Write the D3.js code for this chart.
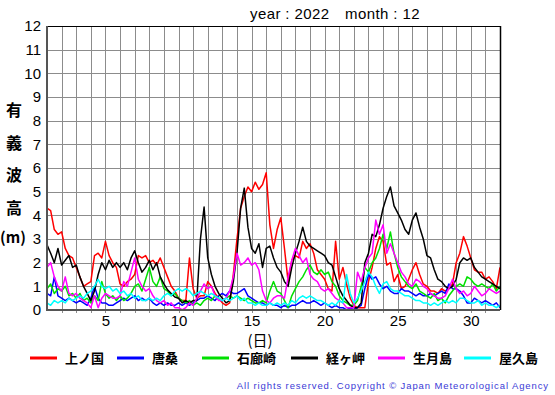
<!DOCTYPE html>
<html>
<head>
<meta charset="utf-8">
<script src="https://cdn.jsdelivr.net/npm/d3@7"></script>
<style>
  body { margin: 0; background: #fff; }
  svg text { font-family: "Liberation Sans", Arial, Helvetica, sans-serif; }
  .jp { font-family: "Noto Sans CJK JP", sans-serif !important; }
</style>
</head>
<body>
<svg id="chart" width="555" height="395"></svg>
<script>
// significant wave height, 6-hourly samples from day 1 00h to day 32 00h
var stations = ["上ノ国", "唐桑", "石廊崎", "経ヶ岬", "生月島", "屋久島"];
var colors = ["#ff0000", "#0000ff", "#00e000", "#000000", "#ff00ff", "#00ffff"];

var kaminokuni = [
  4.3, 4.2, 3.4, 3.2,  3.3, 2.6, 2.3, 2.2,  1.8, 1.4, 1.0, 1.1,  1.2, 2.3, 2.4, 2.2,
  2.9, 2.3, 2.0, 1.8,  1.1, 1.0, 1.2, 1.3,  1.5, 2.3, 2.2, 2.3,  2.0, 2.1, 1.9, 2.2,
  1.8, 1.4, 1.0, 0.8,  0.5, 0.4, 0.4, 2.2,  0.9, 0.5, 0.6, 0.6,  1.2, 1.0, 0.7, 0.5,
  0.3, 0.2, 0.3, 1.5,  3.0, 4.3, 4.8, 5.2,  5.0, 5.4, 5.1, 5.3,  5.8, 3.6, 2.6, 3.4,
  3.9, 2.6, 1.2, 2.1,  2.3, 2.2, 2.9, 2.6,  2.8, 2.4, 1.7, 1.5,  1.3, 0.9, 0.8, 2.9,
  1.3, 1.8, 1.1, 0.5,  0.2, 0.1, 0.1, 0.1,  1.2, 1.8, 2.6, 3.1,  2.9, 1.9, 2.0, 1.2,
  1.5, 0.9, 1.0, 1.3,  1.7, 2.0, 1.5, 1.1,  1.0, 0.8, 0.8, 0.7,  0.9, 0.8, 0.9, 1.1,
  2.0, 2.4, 3.1, 2.7,  2.2, 1.7, 1.6, 1.6,  1.3, 1.4, 1.2, 0.9,  1.8
];
var karakuwa = [
  0.7, 0.6, 1.4, 0.6,  0.5, 0.4, 0.5, 0.4,  0.3, 0.4, 0.3, 0.2,  0.5, 1.0, 0.5, 0.3,
  0.3, 0.2, 0.2, 0.3,  0.4, 0.5, 0.4, 0.5,  0.6, 0.4, 0.5, 0.4,  0.5, 0.3, 0.2, 0.3,
  0.2, 0.3, 0.2, 0.2,  0.3, 0.2, 0.3, 0.2,  0.3, 0.4, 0.5, 0.5,  0.6, 0.5, 0.4, 0.6,
  0.7, 0.6, 0.8, 0.7,  0.7, 0.8, 0.9, 0.6,  0.5, 0.4, 0.3, 0.3,  0.2, 0.3, 0.2, 0.2,
  0.1, 0.2, 0.1, 0.2,  0.2, 0.3, 0.4, 0.3,  0.3, 0.4, 0.3, 0.2,  0.3, 0.2, 0.1, 0.2,
  0.1, 0.1, 0.0, 0.1,  0.0, 0.1, 0.2, 0.9,  1.5, 1.3, 1.4, 1.1,  0.9, 1.0, 0.8, 0.7,
  0.7, 0.9, 0.8, 0.8,  0.7, 0.6, 0.7, 0.6,  0.6, 0.7, 0.6, 0.7,  0.8, 0.7, 1.1, 0.9,
  0.9, 0.8, 0.6, 0.3,  0.3, 0.5, 0.4, 0.3,  0.4, 0.3, 0.2, 0.3,  0.1
];
var irozaki = [
  0.9, 1.1, 0.7, 0.9,  0.8, 1.0, 0.6, 0.7,  0.5, 0.7, 0.4, 0.5,  0.3, 0.6, 0.4, 1.2,
  0.7, 0.5, 0.6, 0.4,  0.6, 0.4, 0.5, 0.7,  1.0, 1.1, 0.8, 1.3,  1.8, 1.2, 1.0, 1.4,
  0.9, 0.8, 0.6, 0.7,  0.5, 0.4, 0.3, 0.4,  0.2, 0.3, 0.2, 0.4,  0.5, 0.4, 0.6, 0.5,
  0.4, 0.5, 0.6, 0.5,  0.6, 0.5, 0.4, 0.5,  0.4, 0.3, 0.3, 0.4,  0.3, 0.8, 1.2, 0.8,
  0.7, 0.4, 0.1, 0.6,  0.9, 1.2, 1.4, 1.7,  1.9, 1.6, 1.5, 1.7,  1.5, 1.6, 1.2, 1.0,
  0.6, 0.4, 0.3, 0.2,  0.2, 0.4, 1.0, 1.8,  1.6, 2.0, 2.2, 2.6,  3.2, 2.6, 3.3, 2.4,
  1.8, 1.4, 1.2, 1.0,  0.9, 1.1, 0.8, 0.7,  0.6, 0.5, 0.7, 0.4,  0.5, 0.3, 0.6, 0.8,
  1.0, 1.1, 1.0, 1.4,  1.3, 1.1, 1.0, 1.1,  1.0, 0.9, 1.1, 0.8,  1.0
];
var kyogamisaki = [
  2.75, 2.4, 2.0, 2.6,  1.9, 2.1, 2.3, 1.8,  1.9, 1.4, 1.0, 0.7,  0.4, 0.8, 1.5, 2.0,
  1.7, 2.1, 1.8, 2.0,  1.8, 2.0, 1.7, 2.2,  2.5, 2.0, 1.6, 1.8,  2.1, 1.7, 2.0, 1.4,
  1.1, 0.85, 0.7, 0.55, 0.5, 0.3, 0.4, 0.3,  0.4, 0.4, 3.0, 4.35,  2.2, 1.5, 1.0, 0.7,
  0.5, 0.3, 0.4, 1.2,  2.4, 4.3, 5.15, 3.5,  2.6, 2.4, 2.8, 1.8,  2.6, 2.7, 2.2, 1.8,
  1.6, 1.2, 1.0, 1.8,  2.4, 2.9, 3.5, 2.9,  2.7, 2.6, 2.5, 2.4,  2.3, 2.0, 1.9, 1.4,
  0.9, 0.6, 0.4, 0.2,  0.1, 0.1, 0.3, 2.0,  2.4, 3.2, 3.1, 3.6,  4.3, 4.8, 5.2, 4.4,
  4.1, 3.8, 3.4, 3.2,  3.8, 4.1, 3.5, 3.0,  2.3, 2.2, 1.7, 1.3,  1.2, 1.0, 0.9, 1.0,
  1.3, 2.0, 2.2, 2.1,  2.2, 1.8, 1.6, 1.4,  1.3, 1.2, 1.1, 1.0,  0.9
];
var ikitsukishima = [
  1.8, 2.0, 1.4, 1.0,  0.8, 1.4, 0.7, 0.6,  0.7, 0.5, 0.4, 0.3,  0.1, 0.6, 0.1, 0.5,
  0.7, 0.6, 0.5, 0.5,  0.6, 1.2, 1.0, 1.6,  2.2, 1.3, 1.0, 0.8,  0.9, 0.6, 0.4, 0.3,
  0.4, 0.2, 0.3, 0.1,  0.1, 0.0, 0.1, 0.3,  0.2, 0.5, 0.8, 1.1,  0.9, 1.0, 0.6, 0.4,
  0.4, 0.5, 0.8, 1.4,  2.4, 1.9, 2.0, 2.2,  1.9, 2.0, 1.7, 0.8,  0.4, 0.3, 0.5, 0.6,
  0.6, 0.5, 1.4, 2.1,  2.6, 2.3, 2.0, 2.2,  1.5, 1.3, 1.2, 0.9,  0.8, 0.9, 0.7, 0.5,
  0.4, 0.3, 0.1, 0.1,  0.1, 1.6, 1.2, 1.8,  2.2, 2.4, 3.8, 3.2,  3.6, 2.4, 2.8, 2.4,
  2.0, 1.6, 1.4, 1.1,  1.0, 1.3, 1.2, 1.0,  0.9, 0.7, 0.6, 0.5,  0.5, 0.6, 0.9, 1.3,
  0.9, 0.7, 0.8, 0.6,  0.7, 1.0, 0.8, 0.6,  0.7, 0.9, 0.8, 0.7,  0.8
];
var yakushima = [
  0.3, 0.2, 0.4, 0.3,  0.4, 0.3, 0.5, 0.4,  0.5, 0.6, 0.5, 0.7,  0.8, 1.0, 1.3, 1.0,
  0.9, 1.0, 0.8, 0.9,  0.7, 0.8, 0.6, 0.7,  0.5, 0.6, 0.4, 0.4,  0.5, 0.4, 0.5, 0.4,
  0.6, 0.7, 0.6, 0.8,  0.9, 0.8, 0.9, 0.8,  0.6, 0.7, 0.8, 0.7,  0.6, 0.7, 0.6, 0.5,
  0.4, 0.5, 0.4, 0.5,  0.6, 0.4, 0.5, 0.3,  0.3, 0.2, 0.3, 0.2,  0.2, 0.3, 0.2, 0.3,
  0.2, 0.3, 0.2, 0.4,  0.3, 0.5, 0.6, 0.5,  0.6, 0.5, 0.4, 0.4,  0.3, 0.2, 0.3, 0.2,
  0.4, 0.3, 1.5, 0.7,  0.3, 0.5, 0.8, 1.2,  1.6, 1.4, 1.0, 0.7,  1.1, 1.2, 0.9, 0.8,
  0.8, 0.7, 0.6, 0.6,  0.5, 0.4, 0.4, 0.3,  0.3, 0.2, 0.3, 0.2,  0.3, 0.4, 0.3, 0.4,
  0.3, 0.5, 0.5, 0.4,  0.3, 0.3, 0.4, 0.2,  0.3, 0.2, 0.2, 0.1,  0.2
];

var yTicks = d3.range(0, 13);
var xTicks = [5, 10, 15, 20, 25, 30];

(function() {

  var series = [kaminokuni, karakuwa, irozaki, kyogamisaki, ikitsukishima, yakushima];
  var samplesPerDay = 4;

  var plotLeft = 47, plotRight = 500, plotTop = 26, plotBottom = 310;

  var x = d3.scaleLinear().domain([1, 32]).range([plotLeft, plotRight]);
  var y = d3.scaleLinear().domain([0, 12]).range([plotBottom, plotTop]);

  var svg = d3.select("#chart");

  svg.append("text")
      .attr("x", 250).attr("y", 19)
      .style("font-size", "15px")
      .style("letter-spacing", "0.4px")
      .text("year : 2022");
  svg.append("text")
      .attr("x", 345).attr("y", 19)
      .style("font-size", "15px")
      .style("letter-spacing", "0.4px")
      .text("month : 12");

  // grid
  var grid = svg.append("g").attr("stroke", "#8c8c8c").attr("stroke-width", 1);

  grid.selectAll(".vgrid")
      .data(d3.range(2, 32))
    .enter().append("line")
      .attr("x1", d => Math.round(x(d)) + 0.5)
      .attr("x2", d => Math.round(x(d)) + 0.5)
      .attr("y1", plotTop)
      .attr("y2", plotBottom + 3);

  grid.selectAll(".hgrid")
      .data(yTicks.slice(1, -1))
    .enter().append("line")
      .attr("x1", plotLeft)
      .attr("x2", plotRight)
      .attr("y1", d => Math.round(y(d)) + 0.5)
      .attr("y2", d => Math.round(y(d)) + 0.5);

  // wave height lines
  var line = d3.line()
      .x((d, i) => x(1 + i / samplesPerDay))
      .y(d => y(d));

  svg.append("g")
      .selectAll("path")
      .data(series)
    .enter().append("path")
      .attr("fill", "none")
      .attr("stroke", (d, i) => colors[i])
      .attr("stroke-width", 1.5)
      .attr("stroke-linejoin", "round")
      .attr("d", line);

  // frame
  svg.append("line")
      .attr("x1", plotLeft).attr("x2", plotRight)
      .attr("y1", plotTop + 0.5).attr("y2", plotTop + 0.5)
      .attr("stroke", "#000").attr("stroke-width", 1);
  svg.append("line")
      .attr("x1", plotRight + 0.5).attr("x2", plotRight + 0.5)
      .attr("y1", plotTop).attr("y2", plotBottom)
      .attr("stroke", "#000").attr("stroke-width", 1.5);
  svg.append("line")
      .attr("x1", plotLeft).attr("x2", plotLeft)
      .attr("y1", plotTop).attr("y2", plotBottom + 1)
      .attr("stroke", "#555").attr("stroke-width", 2);
  svg.append("line")
      .attr("x1", plotLeft).attr("x2", plotRight)
      .attr("y1", plotBottom).attr("y2", plotBottom)
      .attr("stroke", "#555").attr("stroke-width", 2);

  // axes labels
  var yAxis = d3.axisLeft(y).tickValues(yTicks).tickSize(0).tickPadding(6);
  svg.append("g")
      .attr("transform", "translate(" + plotLeft + ",0)")
      .call(yAxis)
      .call(g => g.select(".domain").remove())
      .selectAll("text")
      .style("font-size", "15px")
      .style("font-family", "'Liberation Sans', Arial, sans-serif")
      .attr("fill", "#000");

  var xAxis = d3.axisBottom(x).tickValues(xTicks).tickSize(0).tickPadding(5);
  svg.append("g")
      .attr("transform", "translate(0," + plotBottom + ")")
      .call(xAxis)
      .call(g => g.select(".domain").remove())
      .selectAll("text")
      .style("font-size", "15px")
      .style("font-family", "'Liberation Sans', Arial, sans-serif")
      .attr("fill", "#000");

  svg.append("text")
      .attr("class", "jp")
      .attr("x", 260).attr("y", 346)
      .attr("text-anchor", "middle")
      .style("font-size", "15px")
      .text("(日)");

  var yTitle = ["有", "義", "波", "高"];
  svg.append("g").selectAll("text")
      .data(yTitle)
    .enter().append("text")
      .attr("class", "jp")
      .attr("x", 14)
      .attr("y", (d, i) => 116 + i * 32.5)
      .attr("text-anchor", "middle")
      .style("font-size", "16px")
      .style("font-weight", "bold")
      .text(d => d);
  svg.append("text")
      .attr("class", "jp")
      .attr("x", 13).attr("y", 243)
      .attr("text-anchor", "middle")
      .style("font-size", "15px")
      .style("font-weight", "bold")
      .text("(m)");

  // legend
  var legendX = [30, 117, 202, 291, 378, 464];
  var legend = svg.append("g").selectAll("g")
      .data(stations)
    .enter().append("g")
      .attr("transform", (d, i) => "translate(" + legendX[i] + ",358)");

  legend.append("line")
      .attr("x1", 0).attr("x2", 27)
      .attr("stroke", (d, i) => colors[i])
      .attr("stroke-width", 3);

  legend.append("text")
      .attr("class", "jp")
      .attr("x", 35).attr("y", 5)
      .style("font-size", "13px")
      .style("font-weight", "bold")
      .text(d => d);

  svg.append("text")
      .attr("x", 549).attr("y", 389)
      .attr("text-anchor", "end")
      .attr("fill", "#3a3ad6")
      .style("font-size", "9.5px")
      .style("letter-spacing", "0.9px")
      .text("All rights reserved. Copyright © Japan Meteorological Agency");

})();
</script>
</body>
</html>
